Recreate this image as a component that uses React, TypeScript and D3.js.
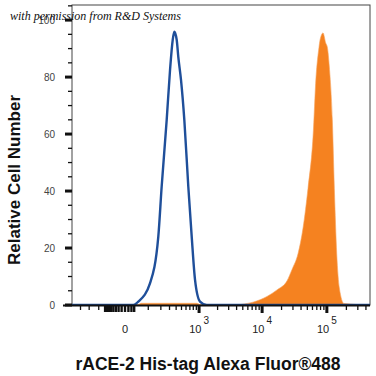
import React from "react";
import * as d3 from "d3";

// ---- data (fluorescence intensity, relative cell number) ----
const isotypeX = [-433, 0, 27, 47, 111, 176, 208, 264, 307, 345, 370, 410, 438, 490, 561, 658, 752, 856, 1037, 1335, 462000];
const isotypeY = [0, 0, 0, 1.2, 7.6, 24, 41.5, 65, 82.5, 93, 95.9, 93, 87.1, 79, 65, 41.5, 24, 8.8, 1.2, 0, 0];

const stainedX = [-433, 45, 60, 900, 1100, 4000, 5040, 7222, 11910, 17020, 24320, 29040, 35930, 42920, 51240, 61200, 68080, 75700, 78470, 87280, 96000, 101700, 109200, 121450, 130400, 141960, 155690, 183930, 462000];
const stainedY = [0, 0, 0.6, 0.6, 0, 0, 0.3, 1, 3, 5.3, 8.5, 12.5, 18, 27, 41, 59, 80, 90.5, 93, 95.5, 92, 90.5, 83.5, 65, 41, 18, 6, 0.5, 0];

const yMajorTicks = [0, 20, 40, 60, 80, 100];
const yMinorTicks = [5, 10, 15, 25, 30, 35, 45, 50, 55, 65, 70, 75, 85, 90, 95, 105];
const xMajorTicks = [1e3, 1e4, 1e5];
const xBlockTicks = [-80, -70, -60, -50, -40, -30, -20, -10, 0, 10, 20, 30];
const xMinorTicks = [-300, -200, -120, 100, 200, 300, 400, 500, 600, 700, 800, 900,
  2000, 3000, 4000, 5000, 6000, 7000, 8000, 9000,
  20000, 30000, 40000, 50000, 60000, 70000, 80000, 90000, 200000, 300000, 400000];
const xTickLabels = [
  { v: 0, base: "0", exp: "" },
  { v: 1e3, base: "10", exp: "3" },
  { v: 1e4, base: "10", exp: "4" },
  { v: 1e5, base: "10", exp: "5" },
];

const W = 376, H = 376;
const left = 72, right = 370, top = 5, bottom = 305;

export default function App() {
  const x = d3.scaleSymlog().constant(78).domain([-433, 462000]).range([left, right]);
  const y = d3.scaleLinear().domain([0, 105.3]).range([bottom, top]);

  const iso = isotypeX.map((v, i) => [v, isotypeY[i]] as [number, number]);
  const st = stainedX.map((v, i) => [v, stainedY[i]] as [number, number]);

  const line = d3.line<[number, number]>().x(d => x(d[0])).y(d => y(d[1])).curve(d3.curveMonotoneX);
  const area = d3.area<[number, number]>().x(d => x(d[0])).y0(y(0)).y1(d => y(d[1])).curve(d3.curveMonotoneX);

  const sans = "'Liberation Sans', Arial, sans-serif";

  return (
    <svg width={W} height={H} style={{ position: "absolute", left: 0, top: 0, background: "#fff" }}
      xmlns="http://www.w3.org/2000/svg">
      <defs>
        <clipPath id="plotClip">
          <rect x={left} y={top} width={right - left} height={bottom - top + 1} />
        </clipPath>
      </defs>
      <rect x={0} y={0} width={W} height={H} fill="#fff" />
      {/* frame */}
      <rect x={left} y={top} width={right - left} height={bottom - top} fill="none" stroke="#444" strokeWidth={1} />
      <g clipPath="url(#plotClip)">
        <path d={area(st) || ""} fill="#f58220" stroke="#f7a35c" strokeWidth={0.6} />
        <path d={line(iso) || ""} fill="none" stroke="#1f4f9a" strokeWidth={2.4} strokeLinejoin="round" />
      </g>
      {/* bottom axis line */}
      <line x1={left - 9} x2={right} y1={bottom + 0.5} y2={bottom + 0.5} stroke="#111" strokeWidth={2} />
      {/* y ticks */}
      {yMinorTicks.filter(t => y(t) >= top).map(t => (
        <line key={"ym" + t} x1={left - 4} x2={left} y1={y(t)} y2={y(t)} stroke="#111" strokeWidth={1.3} />
      ))}
      {yMajorTicks.map(t => (
        <line key={"yM" + t} x1={left - 7} x2={left} y1={y(t)} y2={y(t)} stroke="#111" strokeWidth={3} />
      ))}
      {yMajorTicks.map(t => (
        <text key={"yl" + t} x={55} y={y(t) + 3.5} textAnchor="end" fontFamily={sans} fontSize={10} fill="#444">{t}</text>
      ))}
      {/* x ticks */}
      {xMinorTicks.map(t => (
        <line key={"xm" + t} x1={x(t)} x2={x(t)} y1={bottom} y2={bottom + 5} stroke="#111" strokeWidth={1.3} />
      ))}
      {xBlockTicks.map(t => (
        <line key={"xb" + t} x1={x(t)} x2={x(t)} y1={bottom} y2={bottom + 7} stroke="#111" strokeWidth={2.4} />
      ))}
      {xMajorTicks.map(t => (
        <line key={"xM" + t} x1={x(t)} x2={x(t)} y1={bottom} y2={bottom + 8} stroke="#111" strokeWidth={3} />
      ))}
      {xTickLabels.map(l => (
        <text key={"xl" + l.v} x={x(l.v)} y={333} textAnchor="middle" fontFamily={sans} fontSize={11} fill="#222">
          {l.base}
          {l.exp && <tspan dy={-9} dx={2} fontSize={10}>{l.exp}</tspan>}
        </text>
      ))}
      {/* axis titles */}
      <text x={208} y={370} textAnchor="middle" fontFamily={sans} fontWeight="bold" fontSize={17.5} fill="#111">
        rACE-2 His-tag Alexa Fluor®488
      </text>
      <text transform="translate(20,180) rotate(-90)" textAnchor="middle" fontFamily={sans}
        fontWeight="bold" fontSize={17} fill="#111">
        Relative Cell Number
      </text>
      {/* watermark */}
      <text x={10} y={20} fontFamily="'Liberation Serif', serif" fontStyle="italic" fontSize={12} fill="#111">
        with permission from R&amp;D Systems
      </text>
    </svg>
  );
}
